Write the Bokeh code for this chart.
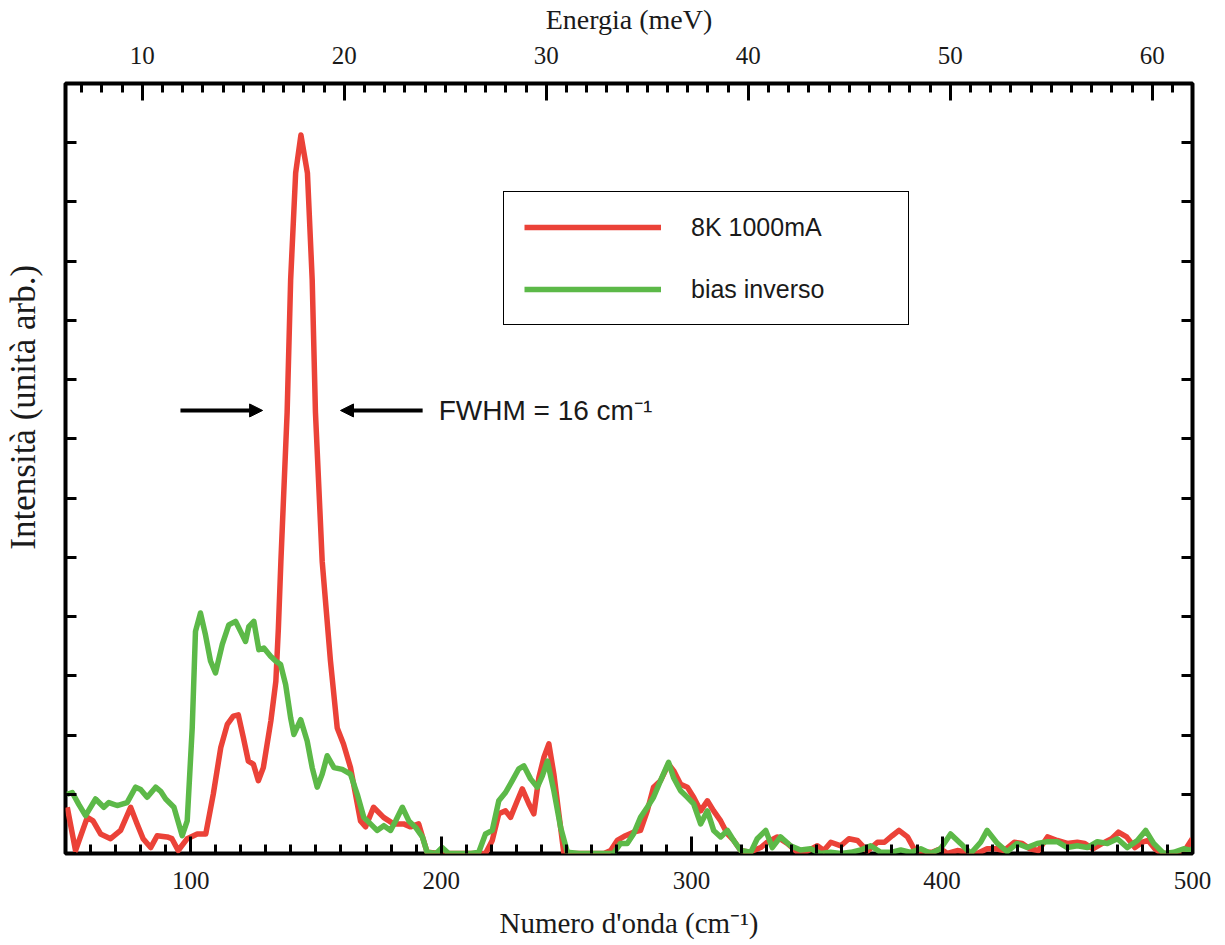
from bokeh.plotting import figure
from bokeh.models import (Range1d, LinearAxis, SingleIntervalTicker, Legend, LegendItem,
                          Arrow, NormalHead, Label)
from bokeh.embed import file_html
from bokeh.resources import INLINE

# ---------------- data ----------------
red_x = [50.7, 54, 58.7, 61, 64, 68, 72, 76, 78.6, 81, 84, 86.6, 90.6, 92.5, 95, 98.6, 102.6, 106,
         109, 112, 114.6, 117, 119, 121, 123, 125, 127, 129, 132, 134, 135, 136, 138.5, 139.9, 141.9,
         144.0, 146.6, 148.5, 149.8, 152.5, 155.8, 158.5, 161, 163.8, 167.8, 169.8, 173, 177, 181,
         185, 187.8, 191, 194.4, 200, 205, 210, 215, 217.7, 220.4, 223, 225.7, 227.7, 230.4, 232.4,
         235, 237, 239, 241, 243, 245, 247, 249, 255, 260, 265, 267.7, 270.3, 273.6, 276.8, 279.6,
         282.3, 284.8, 287.6, 290.8, 292.8, 295.6, 298.3, 300.8, 303.6, 306.3, 308.8, 311.6, 314.3,
         316.8, 319.6, 323, 327.6, 330.2, 334.2, 338.2, 342, 346.2, 350.2, 352.8, 355.6, 359.6, 362.8,
         366.2, 370.2, 374.2, 377, 380.1, 382.8, 386.2, 388.8, 392, 396, 399.4, 402.1, 406.1, 410,
         414, 418, 421.5, 424.8, 428.8, 432, 435, 438.5, 442.1, 446, 450, 454, 457, 460.2, 464, 467.7,
         470.4, 473.7, 477, 480, 482.3, 485, 487.7, 491, 496.6, 499.9]
red_y = [0.78, 0.05, 0.61, 0.55, 0.33, 0.25, 0.39, 0.78, 0.5, 0.25, 0.1, 0.3, 0.28, 0.25, 0.05, 0.25,
         0.33, 0.33, 1.0, 1.79, 2.18, 2.32, 2.34, 1.96, 1.56, 1.51, 1.23, 1.45, 2.24, 2.91, 3.8, 4.93,
         7.45, 9.69, 11.49, 12.13, 11.49, 9.69, 7.45, 4.93, 3.25, 2.12, 1.85, 1.45, 0.55, 0.45, 0.78,
         0.61, 0.5, 0.5, 0.45, 0.5, 0.02, 0.0, 0.0, 0.0, 0.0, 0.0, 0.22, 0.67, 0.72, 0.61, 0.89, 1.09,
         0.84, 0.67, 1.28, 1.62, 1.85, 1.34, 0.67, 0.0, 0.0, 0.0, 0.0, 0.05, 0.22, 0.3, 0.36, 0.39,
         0.72, 1.12, 1.23, 1.51, 1.4, 1.17, 1.12, 0.95, 0.72, 0.89, 0.72, 0.55, 0.33, 0.22, 0.05, 0.02,
         0.1, 0.19, 0.28, 0.17, 0.03, 0.04, 0.13, 0.05, 0.19, 0.13, 0.25, 0.22, 0.04, 0.19, 0.19, 0.3,
         0.39, 0.28, 0.08, 0.02, 0.02, 0.08, 0.0, 0.05, 0.02, 0.0, 0.08, 0.08, 0.05, 0.19, 0.17, 0.08,
         0.05, 0.28, 0.22, 0.17, 0.19, 0.17, 0.08, 0.17, 0.25, 0.36, 0.28, 0.1, 0.19, 0.22, 0.08, 0.0,
         0.0, 0.03, 0.25]

green_x = [50.7, 52.7, 55.3, 58, 62, 65.3, 67.3, 70.6, 74.6, 78, 80, 82.6, 86, 88, 90, 93.3, 96.6,
           98.6, 100.6, 101.9, 103.9, 105.9, 107.9, 109.9, 112.6, 115.2, 117.9, 119.9, 121.9, 123.2,
           125.2, 127.2, 129.2, 131.9, 133.9, 135.9, 137.9, 139.9, 141.2, 143.9, 146.5, 148.5, 150.5,
           152.5, 154.5, 157.2, 160.5, 163.8, 166.5, 169.1, 171.8, 174.4, 177.1, 179.8, 181.8, 184.5,
           187.1, 189.8, 192.5, 194.4, 198, 200.4, 203, 208, 212, 215, 217.7, 220.4, 223, 225.7,
           228.4, 231, 233, 235.7, 238.4, 240.4, 242.4, 245, 247.7, 250.4, 255, 260, 265, 268.8,
           271.6, 274.3, 276.8, 279.6, 282.3, 284.8, 287.6, 290.8, 292.8, 295.6, 298.3, 300.8, 303.6,
           306.3, 308.8, 311.6, 314.3, 316.8, 319.6, 323.6, 326.2, 329.6, 332.2, 335.5, 339.5, 343.5,
           347.5, 351.5, 355.5, 359.5, 363.5, 367.5, 371.5, 375.5, 379.5, 383.5, 387.5, 391.5, 395.5,
           399.4, 403.4, 407.4, 411.4, 415.4, 418, 422.1, 426, 430, 434, 438, 442.1, 446, 450, 454,
           458, 462, 466, 470, 474, 478, 481.3, 484.5, 488.5, 492.5, 496.5, 499.5]
green_y = [1.0, 1.03, 0.83, 0.64, 0.92, 0.78, 0.86, 0.81, 0.86, 1.12, 1.08, 0.95, 1.12, 1.05, 0.92,
           0.78, 0.3, 0.55, 2.12, 3.75, 4.06, 3.69, 3.25, 3.05, 3.53, 3.86, 3.92, 3.75, 3.58, 3.83,
           3.92, 3.44, 3.47, 3.33, 3.25, 3.19, 2.85, 2.29, 2.01, 2.26, 1.9, 1.45, 1.12, 1.34, 1.65,
           1.45, 1.42, 1.34, 1.0, 0.61, 0.5, 0.39, 0.47, 0.39, 0.55, 0.78, 0.55, 0.44, 0.28, 0.02, 0.0,
           0.1, 0.0, 0.0, 0.0, 0.02, 0.33, 0.39, 0.89, 1.03, 1.23, 1.43, 1.48, 1.26, 1.12, 1.31, 1.56,
           1.06, 0.44, 0.02, 0.0, 0.0, 0.0, 0.0, 0.17, 0.17, 0.33, 0.61, 0.78, 0.95, 1.23, 1.54, 1.28,
           1.06, 0.95, 0.84, 0.5, 0.72, 0.39, 0.28, 0.39, 0.22, 0.05, 0.02, 0.25, 0.39, 0.1, 0.28, 0.13,
           0.06, 0.08, 0.0, 0.02, 0.0, 0.02, 0.06, 0.13, 0.02, 0.02, 0.06, 0.02, 0.08, 0.0, 0.08, 0.33,
           0.17, 0.0, 0.19, 0.39, 0.17, 0.03, 0.17, 0.1, 0.17, 0.2, 0.2, 0.1, 0.13, 0.1, 0.2, 0.17,
           0.25, 0.1, 0.22, 0.39, 0.17, 0.0, 0.02, 0.08, 0.05]

red_label = "8K 1000mA"
green_label = "bias inverso"
x_min, x_max = 50, 500
y_min, y_max = 0, 13
CM_PER_MEV = 8.0655
y_axis_title = "Intensit\u00e0 (unit\u00e0 arb.)"
fwhm_text = "FWHM = 16 cm\u207b\u00b9"
fwhm_y = 7.48
fwhm_left_arrow = (95.9, 128.7)
fwhm_right_arrow = (192.6, 159.8)
fwhm_text_x = 199.0

RED = "#eb4238"
GREEN = "#5cb948"
SERIF = "Liberation Serif"
SANS = "Liberation Sans"
INK = "#1a1a1a"

p = figure(width=1225, height=945, output_backend="svg", toolbar_location=None,
           x_range=Range1d(x_min, x_max), y_range=Range1d(y_min, y_max),
           x_axis_location=None, y_axis_location=None,
           min_border_left=65, min_border_right=33, min_border_top=80, min_border_bottom=92)
p.grid.visible = False
p.outline_line_color = "black"
p.outline_line_width = 4
p.background_fill_color = "white"
p.border_fill_color = "white"

p.extra_x_ranges = {"energy": Range1d(x_min / CM_PER_MEV, x_max / CM_PER_MEV)}


def style(ax, major_in, minor_in):
    ax.axis_line_color = None
    ax.major_tick_in = major_in
    ax.major_tick_out = 0
    ax.minor_tick_in = minor_in
    ax.minor_tick_out = 0
    ax.major_tick_line_width = 3
    ax.minor_tick_line_width = 3
    ax.major_tick_line_color = "black"
    ax.minor_tick_line_color = "black"
    ax.major_label_text_font = SERIF
    ax.major_label_text_font_size = "25px"
    ax.major_label_text_color = INK
    ax.axis_label_text_font = SERIF
    ax.axis_label_text_font_size = "28px"
    ax.axis_label_text_font_style = "normal"
    ax.axis_label_text_color = INK


bottom = LinearAxis(ticker=SingleIntervalTicker(interval=100, num_minor_ticks=10),
                    axis_label="Numero d'onda (cm\u207b\u00b9)")
style(bottom, 17, 9)
bottom.major_label_standoff = 18
bottom.axis_label_standoff = 15
bottom.axis_label_text_font_size = "29px"
p.add_layout(bottom, "below")

top = LinearAxis(x_range_name="energy",
                 ticker=SingleIntervalTicker(interval=10, num_minor_ticks=10),
                 axis_label="Energia (meV)")
style(top, 17, 9)
top.major_label_standoff = 20
top.axis_label_standoff = 9
p.add_layout(top, "above")

# left / right axes: ticks only, the tick labels are left blank
blank = {i: "" for i in range(y_min, y_max + 1)}

left = LinearAxis(ticker=SingleIntervalTicker(interval=1, num_minor_ticks=0),
                  axis_label="\u00a0" * 14 + y_axis_title)
style(left, 11, 0)
left.major_label_overrides = blank
left.major_label_standoff = 0
left.axis_label_standoff = 23
left.axis_label_text_font_size = "35px"
p.add_layout(left, "left")

right = LinearAxis(ticker=SingleIntervalTicker(interval=1, num_minor_ticks=0))
style(right, 11, 0)
right.major_label_overrides = blank
right.major_label_standoff = 0
p.add_layout(right, "right")

r_red = p.line(red_x, red_y, line_color=RED, line_width=5.5, line_join="round")
r_green = p.line(green_x, green_y, line_color=GREEN, line_width=5.5, line_join="round")

legend = Legend(items=[LegendItem(label=red_label, renderers=[r_red]),
                       LegendItem(label=green_label, renderers=[r_green])],
                location=(438, 528))
legend.label_text_font = SANS
legend.label_text_font_size = "25px"
legend.label_text_color = INK
legend.glyph_width = 137
legend.glyph_height = 30
legend.label_height = 30
legend.label_width = 197
legend.label_standoff = 30
legend.spacing = 32
legend.padding = 20
legend.margin = 0
legend.border_line_color = "black"
legend.border_line_alpha = 1
legend.border_line_width = 1.5
legend.background_fill_color = "white"
legend.background_fill_alpha = 1
p.add_layout(legend, "center")

for x0, x1 in (fwhm_left_arrow, fwhm_right_arrow):
    p.add_layout(Arrow(end=NormalHead(size=13, fill_color="black", line_color="black", line_width=1),
                       x_start=x0, y_start=fwhm_y, x_end=x1, y_end=fwhm_y,
                       line_color="black", line_width=4))

p.add_layout(Label(x=fwhm_text_x, y=fwhm_y, text=fwhm_text, text_font=SANS,
                   text_font_size="28px", text_baseline="middle", text_align="left",
                   text_color=INK))

open("out.html", "w").write(file_html(p, INLINE))
